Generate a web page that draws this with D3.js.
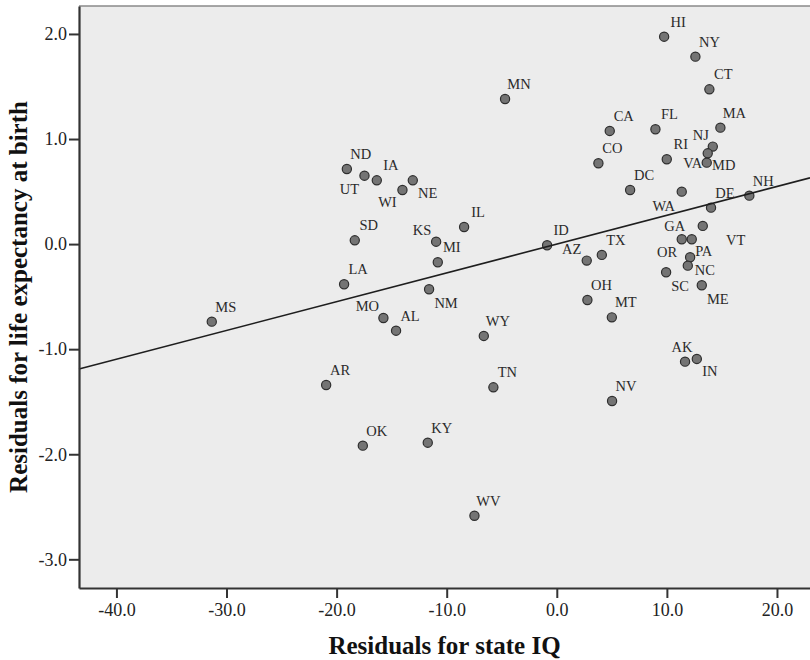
<!DOCTYPE html>
<html>
<head>
<meta charset="utf-8">
<script src="https://cdn.jsdelivr.net/npm/d3@7"></script>
<style>
  body { margin: 0; background: #fff; }
  svg { display: block; font-family: 'Liberation Serif', 'Times New Roman', serif; }
</style>
</head>
<body>
<div id="chart"></div>
<script>
// state codes with residuals
const states = ['HI', 'NY', 'CT', 'MN', 'CA', 'FL', 'MA', 'NJ', 'MD', 'RI', 'VA', 'CO', 'DC', 'WA', 'NH', 'DE',
  'VT', 'GA', 'PA', 'OR', 'NC', 'SC', 'ME', 'ND', 'UT', 'IA', 'NE', 'WI', 'IL', 'SD', 'KS', 'MI', 'ID', 'AZ',
  'TX', 'OH', 'MT', 'LA', 'NM', 'MO', 'AL', 'WY', 'MS', 'AR', 'TN', 'AK', 'IN', 'NV', 'OK', 'KY', 'WV'];

const iqResiduals = [9.75, 12.59, 13.86, -4.70, 4.81, 8.96, 14.86, 14.17, 13.71, 9.99, 13.62, 3.78, 6.66, 11.35, 17.49, 14.01,
  13.26, 11.35, 12.26, 12.11, 11.90, 9.93, 13.17, -19.07, -17.47, -16.35, -13.08, -14.02, -8.42, -18.35, -10.96, -10.81, -0.88, 2.72,
  4.09, 2.78, 5.00, -19.32, -11.60, -15.75, -14.60, -6.63, -31.34, -20.95, -5.76, 11.65, 12.72, 5.02, -17.62, -11.72, -7.48];

const lifeResiduals = [1.974, 1.784, 1.473, 1.381, 1.077, 1.093, 1.108, 0.928, 0.864, 0.807, 0.775, 0.769, 0.515, 0.499, 0.461, 0.347,
  0.173, 0.046, 0.046, -0.125, -0.205, -0.268, -0.392, 0.715, 0.651, 0.607, 0.607, 0.515, 0.163, 0.036, 0.023, -0.173, -0.011, -0.157,
  -0.103, -0.532, -0.697, -0.382, -0.430, -0.703, -0.824, -0.874, -0.738, -1.341, -1.363, -1.119, -1.093, -1.493, -1.918, -1.890, -2.585];

const xTicks = [-40, -30, -20, -10, 0, 10, 20];
const yTicks = [-3, -2, -1, 0, 1, 2];

// fit line through the residuals
const fitSlope = 0.0274;
const fitIntercept = 0;

// where each label sits relative to its dot (default is up-right)
const LABEL_DEFAULT = [14, -15];
const LABEL_OFFSETS = {
  UT: [-15, 13], WI: [-15, 12], NE: [15, 13], NJ: [-12, -12], VA: [-14, 0], MD: [16, 12],
  WA: [-18, 14], AZ: [-15, -12], KS: [-14, -12], MO: [-16, -12], NM: [17, 14], AK: [-3, -15],
  IN: [13, 12], GA: [-7, -13], OR: [-23, -5], PA: [12, 12], NC: [17, 4], SC: [14, 14],
  ME: [16, 14], VT: [33, 14],
};

const width = 810;
const height = 660;
const plot = { left: 79, top: 6, right: 810, bottom: 588 };

const svg = d3.select('#chart')
  .append('svg')
  .attr('width', width)
  .attr('height', height);

const x = d3.scaleLinear().domain([-43.4, 23.0]).range([plot.left, plot.right]);
const y = d3.scaleLinear().domain([-3.273, 2.266]).range([plot.bottom, plot.top]);

svg.append('rect')
  .attr('x', plot.left)
  .attr('y', plot.top)
  .attr('width', plot.right - plot.left)
  .attr('height', plot.bottom - plot.top)
  .attr('fill', '#ececec');

svg.append('line')
  .attr('x1', plot.left)
  .attr('x2', plot.right)
  .attr('y1', plot.top)
  .attr('y2', plot.top)
  .attr('stroke', '#8a8a8a')
  .attr('stroke-width', 1.5);

const points = states.map((s, i) => ({ state: s, x: iqResiduals[i], y: lifeResiduals[i] }));

svg.append('g')
  .selectAll('circle')
  .data(points)
  .join('circle')
  .attr('cx', d => x(d.x))
  .attr('cy', d => y(d.y))
  .attr('r', 4.6)
  .attr('fill', '#747474')
  .attr('stroke', '#2e2e2e')
  .attr('stroke-width', 1.2);

const [x0, x1] = x.domain();
svg.append('line')
  .attr('x1', x(x0))
  .attr('x2', x(x1))
  .attr('y1', y(fitIntercept + fitSlope * x0))
  .attr('y2', y(fitIntercept + fitSlope * x1))
  .attr('stroke', '#1e1e1e')
  .attr('stroke-width', 1.6);

svg.append('g')
  .selectAll('text')
  .data(points)
  .join('text')
  .attr('x', d => x(d.x) + (LABEL_OFFSETS[d.state] || LABEL_DEFAULT)[0])
  .attr('y', d => y(d.y) + (LABEL_OFFSETS[d.state] || LABEL_DEFAULT)[1])
  .attr('dy', '0.35em')
  .attr('text-anchor', 'middle')
  .attr('font-size', '14.5px')
  .attr('fill', '#2a2a2a')
  .text(d => d.state);

const xAxis = svg.append('g')
  .attr('transform', `translate(0,${plot.bottom})`)
  .call(d3.axisBottom(x).tickValues(xTicks).tickFormat(d => d.toFixed(1)).tickSize(10).tickSizeOuter(0).tickPadding(5));

const yAxis = svg.append('g')
  .attr('transform', `translate(${plot.left},0)`)
  .call(d3.axisLeft(y).tickValues(yTicks).tickFormat(d => d.toFixed(1)).tickSize(10).tickSizeOuter(0).tickPadding(2));

[xAxis, yAxis].forEach(g => {
  g.select('.domain').attr('stroke', '#333').attr('stroke-width', 2.2);
  g.selectAll('.tick line').attr('stroke', '#333').attr('stroke-width', 2);
  g.selectAll('.tick text')
    .attr('fill', '#222')
    .style('font-family', "'Liberation Serif', serif")
    .style('font-size', '18px');
});

svg.append('text')
  .attr('x', (plot.left + plot.right) / 2)
  .attr('y', 654)
  .attr('text-anchor', 'middle')
  .attr('font-size', '25px')
  .attr('font-weight', 'bold')
  .attr('fill', '#111')
  .text('Residuals for state IQ');

svg.append('text')
  .attr('transform', `translate(27,${(plot.top + plot.bottom) / 2}) rotate(-90)`)
  .attr('text-anchor', 'middle')
  .attr('font-size', '25px')
  .attr('font-weight', 'bold')
  .attr('fill', '#111')
  .text('Residuals for life expectancy at birth');
</script>
</body>
</html>
